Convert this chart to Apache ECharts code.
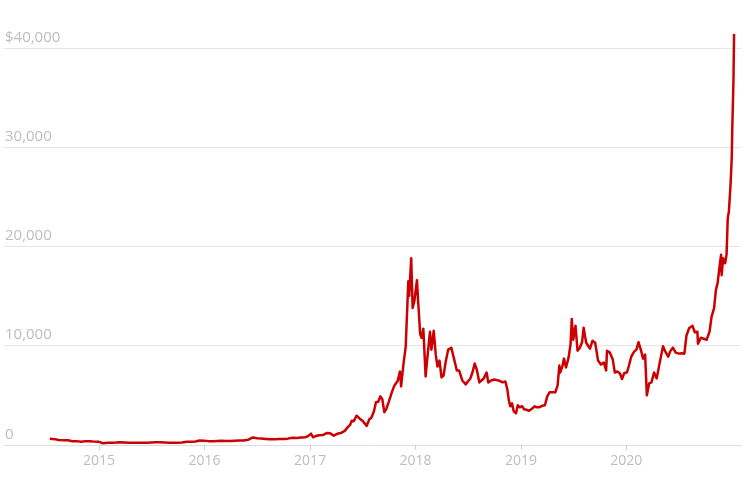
<!DOCTYPE html>
<html>
<head>
<meta charset="utf-8">
<script src="https://cdn.jsdelivr.net/npm/echarts@6/dist/echarts.min.js"></script>
<style>
	html, body { margin: 0; padding: 0; background: #fff; }
	#chart { width: 753px; height: 479px; }
</style>
</head>
<body>
<div id="chart"></div>
<script>
// bitcoin closing price, USD
const dates2014 = ['2014-07-15','2014-08-01','2014-08-15','2014-09-01','2014-09-15','2014-10-01','2014-10-15','2014-11-01','2014-11-15','2014-12-01','2014-12-15'];
const prices2014 = [630, 590, 500, 480, 470, 380, 390, 325, 390, 380, 340];

const dates2015 = ['2015-01-01','2015-01-14','2015-02-01','2015-02-15','2015-03-01','2015-03-15','2015-04-01','2015-04-15','2015-05-01','2015-05-15','2015-06-01','2015-06-15','2015-07-01','2015-07-15','2015-08-01','2015-08-15','2015-09-01','2015-09-15','2015-10-01','2015-10-15','2015-11-01','2015-11-04','2015-11-15','2015-12-01','2015-12-15'];
const prices2015 = [315, 180, 225, 235, 255, 285, 245, 220, 235, 237, 225, 235, 258, 285, 280, 260, 230, 230, 237, 255, 325, 400, 330, 360, 450];

const dates2016 = ['2016-01-01','2016-01-15','2016-02-01','2016-02-15','2016-03-01','2016-03-15','2016-04-01','2016-04-15','2016-05-01','2016-05-15','2016-06-01','2016-06-17','2016-07-01','2016-07-15','2016-08-01','2016-08-15','2016-09-01','2016-09-15','2016-10-01','2016-10-15','2016-11-01','2016-11-15','2016-12-01','2016-12-15','2016-12-25'];
const prices2016 = [430, 390, 370, 400, 430, 415, 415, 430, 450, 455, 535, 760, 675, 665, 610, 570, 575, 610, 615, 640, 730, 710, 750, 780, 890];

const dates2017 = ['2017-01-04','2017-01-11','2017-01-20','2017-02-01','2017-02-15','2017-03-01','2017-03-10','2017-03-24','2017-04-05','2017-04-20','2017-05-01','2017-05-10','2017-05-20','2017-05-25','2017-06-01','2017-06-11','2017-06-20','2017-07-01','2017-07-16','2017-07-25','2017-08-01','2017-08-10','2017-08-17','2017-08-25','2017-09-01','2017-09-08','2017-09-15','2017-09-22','2017-10-01','2017-10-12','2017-10-20','2017-10-31','2017-11-08','2017-11-12','2017-11-20','2017-11-28','2017-12-07','2017-12-10','2017-12-17','2017-12-22','2017-12-28'];
const prices2017 = [1150, 780, 900, 990, 1010, 1220, 1190, 940, 1130, 1240, 1420, 1750, 2050, 2450, 2400, 2950, 2700, 2450, 1930, 2600, 2750, 3400, 4300, 4350, 4900, 4600, 3300, 3650, 4400, 5400, 6000, 6450, 7400, 5900, 8100, 9900, 16500, 15000, 18800, 13800, 14500];

const dates2018 = ['2018-01-06','2018-01-10','2018-01-17','2018-01-22','2018-01-28','2018-02-05','2018-02-10','2018-02-20','2018-02-25','2018-03-05','2018-03-12','2018-03-18','2018-03-25','2018-04-01','2018-04-08','2018-04-15','2018-04-24','2018-05-05','2018-05-15','2018-05-24','2018-06-01','2018-06-12','2018-06-24','2018-07-01','2018-07-10','2018-07-17','2018-07-25','2018-08-01','2018-08-10','2018-08-15','2018-08-25','2018-09-04','2018-09-10','2018-09-20','2018-10-01','2018-10-15','2018-10-30','2018-11-08','2018-11-15','2018-11-20','2018-11-25','2018-12-01','2018-12-07','2018-12-15','2018-12-21','2018-12-28'];
const prices2018 = [16600, 14500, 11200, 10800, 11700, 6900, 8500, 11400, 9600, 11500, 9100, 7900, 8500, 6800, 7000, 8300, 9600, 9800, 8600, 7500, 7500, 6500, 6100, 6400, 6700, 7300, 8200, 7600, 6300, 6300, 6700, 7300, 6300, 6500, 6600, 6500, 6300, 6400, 5600, 4500, 3900, 4200, 3400, 3200, 4000, 3800];

const dates2019 = ['2019-01-05','2019-01-12','2019-01-20','2019-01-29','2019-02-08','2019-02-18','2019-02-25','2019-03-05','2019-03-15','2019-03-25','2019-04-02','2019-04-10','2019-04-20','2019-04-30','2019-05-08','2019-05-14','2019-05-17','2019-05-25','2019-05-30','2019-06-06','2019-06-15','2019-06-22','2019-06-26','2019-07-01','2019-07-09','2019-07-16','2019-07-24','2019-08-01','2019-08-06','2019-08-15','2019-08-28','2019-09-06','2019-09-15','2019-09-25','2019-10-05','2019-10-15','2019-10-23','2019-10-26','2019-11-05','2019-11-15','2019-11-22','2019-12-01','2019-12-10','2019-12-17','2019-12-25'];
const prices2019 = [3900, 3600, 3550, 3450, 3650, 3900, 3800, 3800, 3950, 4000, 4900, 5300, 5300, 5300, 6000, 8000, 7300, 8000, 8700, 7800, 8800, 10200, 12700, 10600, 12000, 9500, 9800, 10400, 11800, 10300, 9700, 10500, 10300, 8500, 8100, 8300, 7500, 9500, 9300, 8600, 7300, 7400, 7200, 6650, 7250];

const dates2020 = ['2020-01-03','2020-01-10','2020-01-18','2020-01-28','2020-02-05','2020-02-12','2020-02-20','2020-02-28','2020-03-06','2020-03-12','2020-03-20','2020-03-28','2020-04-06','2020-04-15','2020-04-29','2020-05-07','2020-05-15','2020-05-25','2020-06-02','2020-06-10','2020-06-20','2020-07-01','2020-07-10','2020-07-20','2020-07-27','2020-08-05','2020-08-17','2020-08-25','2020-09-03','2020-09-05','2020-09-15','2020-09-25','2020-10-05','2020-10-15','2020-10-22','2020-10-31','2020-11-06','2020-11-12','2020-11-18','2020-11-24','2020-11-26','2020-12-01','2020-12-08','2020-12-13','2020-12-17','2020-12-21','2020-12-27','2020-12-31'];
const prices2020 = [7300, 8000, 8900, 9400, 9600, 10350, 9600, 8700, 9100, 5000, 6200, 6300, 7300, 6700, 8800, 9950, 9400, 8900, 9500, 9800, 9300, 9200, 9250, 9200, 11000, 11750, 12000, 11350, 11400, 10200, 10800, 10700, 10600, 11400, 12900, 13800, 15600, 16300, 17800, 19150, 17100, 18800, 18300, 19200, 22800, 23500, 26300, 29000];

const dates2021 = ['2021-01-02','2021-01-04','2021-01-06','2021-01-07','2021-01-08'];
const prices2021 = [32100, 31900, 36800, 39300, 41400];

const yearTicks = [2015, 2016, 2017, 2018, 2019, 2020];

function toStamp(s) {
	let p = s.split('-');
	return Date.UTC(+p[0], +p[1] - 1, +p[2]);
}

let allDates = [].concat(dates2014, dates2015, dates2016, dates2017, dates2018, dates2019, dates2020, dates2021);
let allPrices = [].concat(prices2014, prices2015, prices2016, prices2017, prices2018, prices2019, prices2020, prices2021);
let seriesData = allDates.map((d, i) => [toStamp(d), allPrices[i]]);
let tickStamps = yearTicks.map(y => Date.UTC(y, 0, 1));

let myChart = echarts.init(document.getElementById('chart'));
let labelColor = '#bdbdbd';
let lineColor = '#e6e6e6';

let option = {
	animation: false,
	grid: {
		left: 4,
		right: 12,
		top: -51.5,
		bottom: 34,
		outerBoundsMode: 'none'
	},
	xAxis: {
		type: 'value',
		min: Date.UTC(2014, 1, 6),
		max: Date.UTC(2021, 1, 1),
		axisLine: { show: true, lineStyle: { color: '#dcdcdc', width: 1 } },
		axisTick: {
			show: true,
			customValues: tickStamps,
			length: 5,
			lineStyle: { color: '#d0d0d0' }
		},
		axisLabel: {
			customValues: tickStamps,
			formatter: v => String(new Date(v).getUTCFullYear()),
			color: labelColor,
			fontFamily: '"Open Sans", sans-serif',
			fontSize: 14,
			margin: 9
		},
		splitLine: { show: false }
	},
	yAxis: {
		type: 'value',
		min: 0,
		max: 50000,
		interval: 10000,
		axisLine: { show: false },
		axisTick: { show: false },
		axisLabel: {
			inside: true,
			align: 'left',
			verticalAlign: 'bottom',
			margin: 1,
			padding: [0, 0, 3, 0],
			color: labelColor,
			fontFamily: '"Open Sans", sans-serif',
			fontSize: 15,
			formatter: v => (v === 40000 ? '$' : '') + v.toLocaleString('en-US')
		},
		splitLine: { show: true, lineStyle: { color: lineColor, width: 1 } }
	},
	series: [{
		type: 'line',
		data: seriesData,
		showSymbol: false,
		symbol: 'none',
		smooth: false,
		lineStyle: { color: '#cc0000', width: 2.5, join: 'round' },
		z: 3
	}]
};

myChart.setOption(option);
</script>
</body>
</html>
